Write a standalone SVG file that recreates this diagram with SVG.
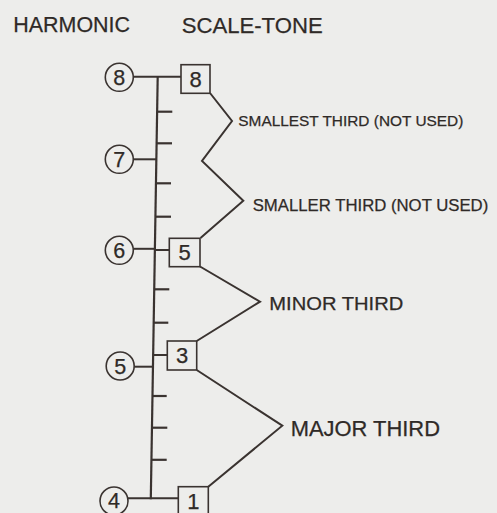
<svg xmlns="http://www.w3.org/2000/svg" width="497" height="513" viewBox="0 0 497 513">
  <style>
    .ink { stroke: #3a3330; fill: none; stroke-linecap: butt; stroke-linejoin: miter; }
    .axis { stroke-width: 2.2; }
    .tick { stroke-width: 2.2; }
    .link { stroke-width: 2; }
    .ring { stroke: #3a3330; stroke-width: 1.6; fill: none; }
    .box { stroke: #3a3330; stroke-width: 1.6; fill: none; }
    text { font-family: "Liberation Sans", Arial, sans-serif; fill: #2f2a27; stroke: #2f2a27; stroke-width: 0.25; }
    .head { font-size: 22px; }
    .num { font-size: 21.5px; text-anchor: middle; }
    .tone { font-size: 22px; text-anchor: middle; }
  </style>

  <rect width="497" height="513" fill="#ededeb"/>

  <!-- column headings -->
  <text class="head" x="13.3" y="32" textLength="116.7" lengthAdjust="spacingAndGlyphs">HARMONIC</text>
  <text class="head" x="181.7" y="33" textLength="141" lengthAdjust="spacingAndGlyphs">SCALE-TONE</text>

  <!-- connectors: the staff, its ticks, the leaders and the interval brackets -->
  <g id="connectors" class="ink">
    <line class="axis" x1="157.7" y1="76.7" x2="150.8" y2="499.3"/>
    <!-- ticks -->
    <line class="tick" x1="157.1" y1="111.7" x2="172.3" y2="111.7"/>
    <line class="tick" x1="156.6" y1="143.3" x2="172.0" y2="143.3"/>
    <line class="tick" x1="155.9" y1="183.3" x2="171.0" y2="183.3"/>
    <line class="tick" x1="155.4" y1="216.7" x2="171.0" y2="216.7"/>
    <line class="tick" x1="154.2" y1="289.3" x2="169.3" y2="289.3"/>
    <line class="tick" x1="153.7" y1="322.7" x2="168.3" y2="322.7"/>
    <line class="tick" x1="152.4" y1="396" x2="166.7" y2="396"/>
    <line class="tick" x1="151.9" y1="427.7" x2="167.3" y2="427.7"/>
    <line class="tick" x1="151.3" y1="459.8" x2="166.7" y2="459.8"/>
    <!-- harmonic leaders -->
    <line class="link" x1="133.3" y1="76.7" x2="181" y2="76.7"/>
    <line class="link" x1="133.3" y1="159.3" x2="156.3" y2="159.3"/>
    <line class="link" x1="133.3" y1="248.8" x2="155" y2="248.8"/>
    <line class="link" x1="155" y1="250" x2="169.3" y2="250"/>
    <line class="link" x1="152.6" y1="355" x2="167.3" y2="355"/>
    <line class="link" x1="134.3" y1="366.7" x2="152.4" y2="366.7"/>
    <line class="link" x1="127.8" y1="498.3" x2="178.3" y2="498.3"/>
    <!-- interval brackets -->
    <polyline class="link" points="210,93 232,121 202,161 243.3,200.7 200.5,238"/>
    <polyline class="link" points="200,266.5 260,301.7 196.7,341"/>
    <polyline class="link" points="196.7,370 282.3,425.7 208.3,486.7"/>
  </g>

  <!-- harmonics -->
  <g id="harmonic-8"><circle class="ring" cx="119.3" cy="77.3" r="14"/><text class="num" x="119.3" y="85.3">8</text></g>
  <g id="harmonic-7"><circle class="ring" cx="119.3" cy="159.3" r="14"/><text class="num" x="119.3" y="167.3">7</text></g>
  <g id="harmonic-6"><circle class="ring" cx="119.3" cy="250.3" r="14"/><text class="num" x="119.3" y="258.3">6</text></g>
  <g id="harmonic-5"><circle class="ring" cx="120.2" cy="366" r="14"/><text class="num" x="120.2" y="374">5</text></g>
  <g id="harmonic-4"><circle class="ring" cx="114" cy="501" r="14"/><text class="num" x="114" y="508.3">4</text></g>

  <!-- scale tones -->
  <g id="tone-8"><rect class="box" x="181" y="64.7" width="29" height="28.6"/><text class="tone" x="195.5" y="86.8">8</text></g>
  <g id="tone-5"><rect class="box" x="169.3" y="238.3" width="30.7" height="28.4"/><text class="tone" x="184.6" y="260.3">5</text></g>
  <g id="tone-3"><rect class="box" x="167.3" y="341" width="29.4" height="29"/><text class="tone" x="182" y="363.3">3</text></g>
  <g id="tone-1"><rect class="box" x="178.3" y="486.7" width="30" height="29"/><text class="tone" x="193.3" y="509">1</text></g>

  <!-- interval labels -->
  <g id="label-smallest"><text x="238.3" y="126" font-size="15.5" textLength="225" lengthAdjust="spacingAndGlyphs">SMALLEST THIRD (NOT USED)</text></g>
  <g id="label-smaller"><text x="252.7" y="210.7" font-size="16.7" textLength="235.6" lengthAdjust="spacingAndGlyphs">SMALLER THIRD (NOT USED)</text></g>
  <g id="label-minor"><text x="269.3" y="310" font-size="19" textLength="134" lengthAdjust="spacingAndGlyphs">MINOR THIRD</text></g>
  <g id="label-major"><text x="290.7" y="435.7" font-size="21.5" textLength="149.3" lengthAdjust="spacingAndGlyphs">MAJOR THIRD</text></g>
</svg>
